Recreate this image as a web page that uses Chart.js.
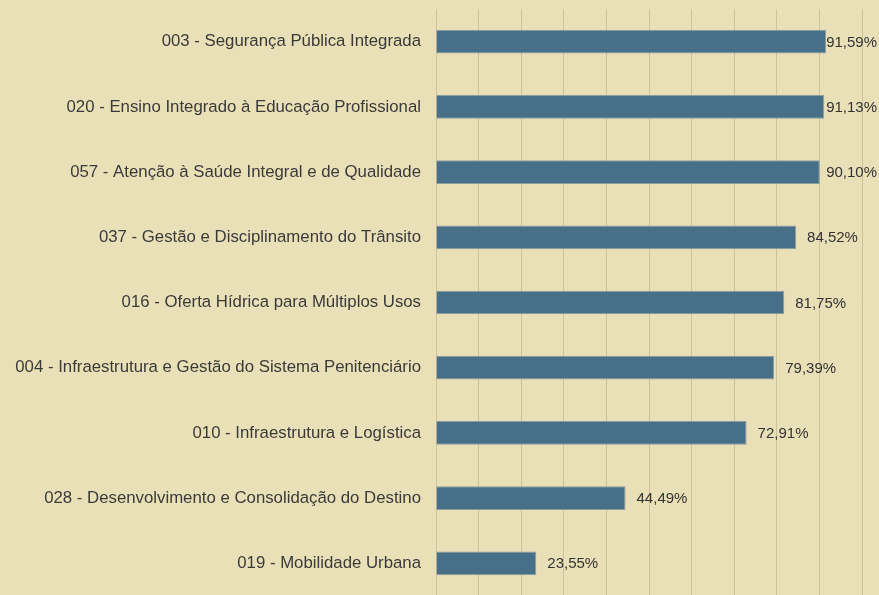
<!DOCTYPE html>
<html>
<head>
<meta charset="utf-8">
<script src="https://cdn.jsdelivr.net/npm/chart.js@4/dist/chart.umd.min.js"></script>
<style>
	html, body { margin: 0; padding: 0; background: #EAE0B7; overflow: hidden; }
	#wrap { width: 879px; height: 637px; position: absolute; left: 0; top: -16px; }
</style>
</head>
<body>
<div id="wrap"><canvas id="myChart"></canvas></div>
<script>
const programas = [
	'003 - Segurança Pública Integrada',
	'020 - Ensino Integrado à Educação Profissional',
	'057 - Atenção à Saúde Integral e de Qualidade',
	'037 - Gestão e Disciplinamento do Trânsito',
	'016 - Oferta Hídrica para Múltiplos Usos',
	'004 - Infraestrutura e Gestão do Sistema Penitenciário',
	'010 - Infraestrutura e Logística',
	'028 - Desenvolvimento e Consolidação do Destino',
	'019 - Mobilidade Urbana'
];
const execucao = [91.59, 91.13, 90.10, 84.52, 81.75, 79.39, 72.91, 44.49, 23.55];
const escala = { min: 0, max: 100, passo: 10 };

const fonte = '"Liberation Sans", Arial, sans-serif';

// rótulos de valor depois da barra, sem sair do canvas
const rotulos = {
	id: 'rotulos',
	afterDatasetsDraw(chart) {
		const c = chart.ctx;
		const meta = chart.getDatasetMeta(0);
		c.save();
		c.font = '15px ' + fonte;
		c.fillStyle = '#333333';
		c.textBaseline = 'middle';
		meta.data.forEach((bar, i) => {
			const txt = execucao[i].toFixed(2).replace('.', ',') + '%';
			const w = c.measureText(txt).width;
			let x = bar.x + 11;
			if (x + w > chart.width - 2) x = chart.width - 2 - w;
			c.fillText(txt, x, bar.y + 1);
		});
		c.restore();
	}
};

const ctx = document.getElementById('myChart');
new Chart(ctx, {
	type: 'bar',
	data: {
		labels: programas,
		datasets: [{
			data: execucao,
			backgroundColor: '#476F88',
			borderColor: '#8B9C9F',
			borderWidth: 1,
			barPercentage: 0.52,
			categoryPercentage: 0.7
		}]
	},
	options: {
		indexAxis: 'y',
		responsive: true,
		maintainAspectRatio: false,
		animation: false,
		layout: { padding: { top: 9, right: 17, bottom: -1, left: 0 } },
		plugins: {
			legend: { display: false },
			tooltip: { enabled: false }
		},
		scales: {
			x: {
				min: escala.min,
				max: escala.max,
				ticks: { display: false, stepSize: escala.passo },
				grid: { color: '#CFC29B', drawTicks: false, lineWidth: 1 },
				border: { display: false },
				afterFit(scale) { scale.height = 0; }
			},
			y: {
				grid: { display: false, drawTicks: false },
				border: { display: false },
				ticks: {
					color: '#3A3A3A',
					padding: 15,
					font: { family: fonte, size: 16.8 }
				},
				afterFit(scale) { scale.width = 436; }
			}
		}
	},
	plugins: [rotulos]
});
</script>
</body>
</html>
